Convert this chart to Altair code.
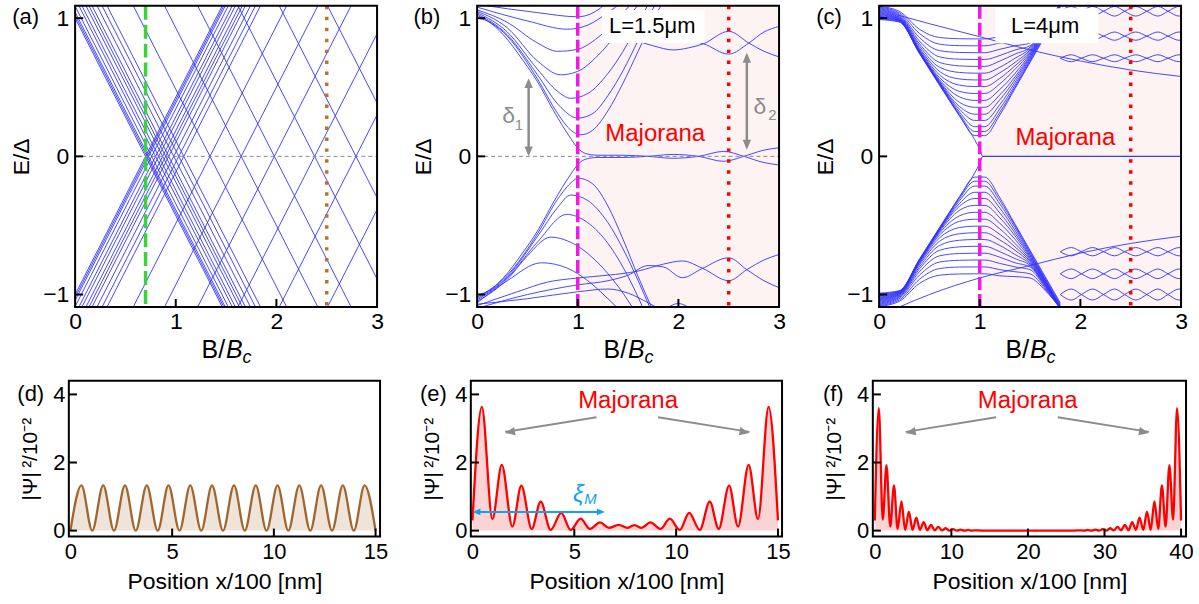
import altair as alt
import pandas as pd

FONT = "Liberation Sans"
BLUE = "#3434FF"
GRAY = "#8C8C8C"
RED = "#FF0000"
MAGENTA = "#EE1BE6"
GREEN = "#3CD23C"
BROWN = "#B8732E"
PINK_BG = "#FDF3F3"
ARROW = "M0,0L0.42,1L-0.42,1Z"

# ---------------- (a) straight levels: E at B=0 and at B=3 ----------------
A_B_ENDS = [0.0, 3.0]
A_DOWN_E0 = [1.001, 1.022, 1.044, 1.087, 1.144, 1.187, 1.244, 1.287, 1.330, 1.401, 1.473, 1.544, 1.916, 2.360, 2.831, 3.403, 3.990, 4.676, 5.363]
A_DOWN_E3 = [-3.289, -3.268, -3.246, -3.203, -3.146, -3.103, -3.046, -3.003, -2.960, -2.889, -2.817, -2.746, -2.374, -1.931, -1.459, -0.887, -0.300, 0.386, 1.073]
A_UP_E0 = [-1.001, -1.022, -1.044, -1.087, -1.144, -1.187, -1.244, -1.287, -1.330, -1.401, -1.473, -1.544, -1.916, -2.360, -2.831, -3.403, -3.990, -4.676, -5.363]
A_UP_E3 = [3.289, 3.268, 3.246, 3.203, 3.146, 3.103, 3.046, 3.003, 2.960, 2.889, 2.817, 2.746, 2.374, 1.931, 1.459, 0.887, 0.300, -0.386, -1.073]

# ---------------- (b) L = 1.5 um ----------------
B_U1_B = [0, 0.1, 0.26, 0.45, 0.6, 0.76, 0.93, 1.0, 1.08, 1.2, 1.45, 1.7, 1.95, 2.2, 2.45, 2.65, 2.85, 3.0]
B_U1_E = [1.0, 0.98, 0.88, 0.7, 0.54, 0.33, 0.13, 0.06, 0.02, 0.008, 0.008, 0.0, -0.014, 0.0, 0.036, 0.0, -0.045, -0.062]
B_L1_B = [0, 0.1, 0.26, 0.45, 0.6, 0.76, 0.93, 1.0, 1.08, 1.2, 1.45, 1.7, 1.95, 2.2, 2.45, 2.65, 2.85, 3.0]
B_L1_E = [-1.0, -0.98, -0.88, -0.7, -0.54, -0.33, -0.13, -0.06, -0.02, -0.008, -0.008, 0.0, 0.014, 0.0, -0.036, 0.0, 0.045, 0.062]
B_U2_B = [0, 0.3, 0.6, 0.8, 0.93, 1.03, 1.15, 1.3, 1.45, 1.6, 1.75, 1.85]
B_U2_E = [1.02, 0.87, 0.56, 0.31, 0.19, 0.156, 0.19, 0.33, 0.53, 0.76, 0.99, 1.12]
B_U3_B = [0, 0.3, 0.6, 0.8, 1.0, 1.15, 1.3, 1.45, 1.6, 1.72, 1.8]
B_U3_E = [1.03, 0.88, 0.59, 0.38, 0.277, 0.31, 0.44, 0.62, 0.84, 1.03, 1.14]
B_U4_B = [0, 0.3, 0.6, 0.8, 0.93, 1.1, 1.3, 1.45, 1.6, 1.72]
B_U4_E = [1.04, 0.9, 0.63, 0.47, 0.42, 0.455, 0.6, 0.76, 0.96, 1.13]
B_U5_B = [0, 0.3, 0.6, 0.83, 1.0, 1.2, 1.4, 1.55, 1.65]
B_U5_E = [1.05, 0.93, 0.69, 0.59, 0.615, 0.73, 0.9, 1.05, 1.14]
B_U6_B = [0, 0.3, 0.6, 0.8, 1.0, 1.2, 1.4, 1.55]
B_U6_E = [1.06, 0.97, 0.82, 0.76, 0.775, 0.86, 1.0, 1.12]
B_U7_B = [0, 0.5, 0.9, 1.1, 1.3, 1.45]
B_U7_E = [1.08, 0.98, 0.92, 0.95, 1.04, 1.12]
B_U8_B = [0, 0.6, 1.0, 1.2, 1.3]
B_U8_E = [1.1, 1.04, 1.01, 1.06, 1.12]
B_UR1_B = [1.5, 1.75, 1.95, 2.1, 2.25, 2.5, 2.7, 2.85, 3.0]
B_UR1_E = [0.86, 0.8, 0.77, 0.785, 0.815, 0.905, 0.82, 0.76, 0.72]
B_UR2_B = [1.9, 2.1, 2.25, 2.5, 2.7, 2.85, 3.0]
B_UR2_E = [0.9, 0.845, 0.815, 0.74, 0.82, 0.9, 0.94]
B_L2_B = [0, 0.3, 0.6, 0.8, 0.95, 1.0, 1.15, 1.3, 1.45, 1.6, 1.75]
B_L2_E = [-1.02, -0.86, -0.56, -0.31, -0.18, -0.157, -0.2, -0.36, -0.6, -0.87, -1.12]
B_L3_B = [0, 0.3, 0.6, 0.8, 0.93, 1.1, 1.3, 1.45, 1.6, 1.72]
B_L3_E = [-1.03, -0.87, -0.58, -0.37, -0.28, -0.32, -0.48, -0.67, -0.9, -1.1]
B_L4_B = [0, 0.3, 0.6, 0.89, 1.1, 1.3, 1.5, 1.65]
B_L4_E = [-1.04, -0.88, -0.62, -0.42, -0.48, -0.63, -0.87, -1.1]
B_L5_B = [0, 0.3, 0.5, 0.73, 1.0, 1.2, 1.4, 1.55]
B_L5_E = [-1.05, -0.89, -0.72, -0.585, -0.65, -0.77, -0.94, -1.1]
B_L6_B = [0, 0.3, 0.64, 0.9, 1.1, 1.3, 1.4]
B_L6_E = [-1.06, -0.9, -0.77, -0.81, -0.9, -1.03, -1.1]
B_LR1_B = [0, 0.4, 0.7, 1.0, 1.3, 1.6, 1.85, 2.04, 2.24, 2.5, 2.68, 2.85, 3.0]
B_LR1_E = [-1.08, -0.98, -0.91, -0.88, -0.86, -0.83, -0.78, -0.757, -0.81, -0.9, -0.82, -0.75, -0.71]
B_LR2_B = [0, 0.5, 1.0, 1.3, 1.5, 1.7, 1.85, 2.04, 2.24, 2.5, 2.68, 2.85, 3.0]
B_LR2_E = [-1.1, -1.0, -0.93, -0.9, -0.86, -0.79, -0.8, -0.878, -0.81, -0.734, -0.82, -0.9, -0.95]
B_LB1_B = [0, 0.5, 1.0, 1.3, 1.5, 1.7, 1.8]
B_LB1_E = [-1.07, -1.03, -0.98, -0.96, -0.99, -1.06, -1.1]
B_LB2_B = [1.85, 2.0, 2.15]
B_LB2_E = [-1.12, -1.065, -1.12]

# ---------------- (c) L = 4 um ----------------
C_GRID = [0, 0.2, 0.4, 0.6, 0.8, 0.95, 1.05, 1.2, 1.35, 1.5, 1.65, 1.8]
C_UP_10 = [0.996, 0.975, 0.75, 0.52, 0.295, 0.15, 0.15, 0.30, 0.49, 0.68, 0.87, 1.06]
C_UP_15 = [1.002, 0.978, 0.75, 0.525, 0.305, 0.18, 0.18, 0.32, 0.50, 0.69, 0.88, 1.07]
C_UP_20 = [1.008, 0.981, 0.752, 0.528, 0.32, 0.215, 0.215, 0.345, 0.515, 0.70, 0.89, 1.08]
C_UP_25 = [1.014, 0.984, 0.754, 0.532, 0.34, 0.26, 0.26, 0.375, 0.535, 0.71, 0.895, 1.085]
C_UP_30 = [1.02, 0.987, 0.756, 0.538, 0.36, 0.305, 0.305, 0.41, 0.555, 0.72, 0.90, 1.09]
C_UP_35 = [1.026, 0.99, 0.758, 0.545, 0.39, 0.355, 0.355, 0.445, 0.575, 0.73, 0.905, 1.095]
C_UP_40 = [1.032, 0.993, 0.762, 0.555, 0.43, 0.405, 0.405, 0.485, 0.60, 0.74, 0.91, 1.1]
C_UP_45 = [1.038, 0.996, 0.768, 0.57, 0.47, 0.455, 0.455, 0.525, 0.63, 0.75, 0.915, 1.1]
C_UP_50 = [1.044, 1.0, 0.775, 0.59, 0.515, 0.505, 0.505, 0.565, 0.655, 0.76, 0.92, 1.1]
C_UP_55 = [1.05, 1.005, 0.785, 0.615, 0.56, 0.553, 0.553, 0.605, 0.68, 0.77, 0.925, 1.1]
C_UP_60 = [1.056, 1.01, 0.80, 0.645, 0.607, 0.602, 0.602, 0.645, 0.71, 0.78, 0.93, 1.1]
C_UP_65 = [1.062, 1.016, 0.815, 0.68, 0.655, 0.651, 0.651, 0.69, 0.74, 0.79, 0.935, 1.1]
C_UP_70 = [1.068, 1.022, 0.835, 0.72, 0.703, 0.701, 0.701, 0.73, 0.77, 0.80, 0.94, 1.1]
C_UP_75 = [1.074, 1.03, 0.86, 0.765, 0.752, 0.75, 0.75, 0.775, 0.80, 0.82, 0.95, 1.1]
C_UP_80 = [1.08, 1.04, 0.89, 0.812, 0.801, 0.80, 0.80, 0.82, 0.835, 0.85, 0.96, 1.1]
C_UP_85 = [1.086, 1.05, 0.92, 0.86, 0.851, 0.85, 0.85, 0.865, 0.87, 0.88, 0.97, 1.1]
C_DN_10 = [-0.996, -0.975, -0.75, -0.52, -0.295, -0.15, -0.15, -0.30, -0.49, -0.68, -0.87, -1.06]
C_DN_15 = [-1.002, -0.978, -0.75, -0.525, -0.305, -0.18, -0.18, -0.32, -0.50, -0.69, -0.88, -1.07]
C_DN_20 = [-1.008, -0.981, -0.752, -0.528, -0.32, -0.215, -0.215, -0.345, -0.515, -0.70, -0.89, -1.08]
C_DN_25 = [-1.014, -0.984, -0.754, -0.532, -0.34, -0.26, -0.26, -0.375, -0.535, -0.71, -0.895, -1.085]
C_DN_30 = [-1.02, -0.987, -0.756, -0.538, -0.36, -0.305, -0.305, -0.41, -0.555, -0.72, -0.90, -1.09]
C_DN_35 = [-1.026, -0.99, -0.758, -0.545, -0.39, -0.355, -0.355, -0.445, -0.575, -0.73, -0.905, -1.095]
C_DN_40 = [-1.032, -0.993, -0.762, -0.555, -0.43, -0.405, -0.405, -0.485, -0.60, -0.74, -0.91, -1.1]
C_DN_45 = [-1.038, -0.996, -0.768, -0.57, -0.47, -0.455, -0.455, -0.525, -0.63, -0.75, -0.915, -1.1]
C_DN_50 = [-1.044, -1.0, -0.775, -0.59, -0.515, -0.505, -0.505, -0.565, -0.655, -0.76, -0.92, -1.1]
C_DN_55 = [-1.05, -1.005, -0.785, -0.615, -0.56, -0.553, -0.553, -0.605, -0.68, -0.77, -0.925, -1.1]
C_DN_60 = [-1.056, -1.01, -0.80, -0.645, -0.607, -0.602, -0.602, -0.645, -0.71, -0.78, -0.93, -1.1]
C_DN_65 = [-1.062, -1.016, -0.815, -0.68, -0.655, -0.651, -0.651, -0.69, -0.74, -0.79, -0.935, -1.1]
C_DN_70 = [-1.068, -1.022, -0.835, -0.72, -0.703, -0.701, -0.701, -0.73, -0.77, -0.80, -0.94, -1.1]
C_DN_75 = [-1.074, -1.03, -0.86, -0.765, -0.752, -0.75, -0.75, -0.775, -0.80, -0.82, -0.95, -1.1]
C_DN_80 = [-1.08, -1.04, -0.89, -0.812, -0.801, -0.80, -0.80, -0.82, -0.835, -0.85, -0.96, -1.1]
C_DN_85 = [-1.086, -1.05, -0.92, -0.86, -0.851, -0.85, -0.85, -0.865, -0.87, -0.88, -0.97, -1.1]
C_MAJ_B = [0, 0.2, 0.4, 0.6, 0.8, 0.95, 1.0, 1.03, 3.0]
C_MAJ_UP = [0.99, 0.972, 0.745, 0.515, 0.29, 0.12, 0.05, 0.0, 0.0]
C_MAJ_DN = [-0.99, -0.972, -0.745, -0.515, -0.29, -0.12, -0.05, 0.0, 0.0]
C_LONG_B = [0.2, 0.5, 1.0, 1.5, 2.0, 2.5, 3.0]
C_LONG_UP = [1.02, 0.96, 0.866, 0.77, 0.69, 0.625, 0.578]
C_LONG_DN = [-1.09, -1.0, -0.88, -0.79, -0.7, -0.63, -0.578]
C_LENS_B = [1.80, 1.91, 2.01, 2.12, 2.23, 2.34, 2.44, 2.55, 2.66, 2.77, 2.87, 2.98, 3.09]
C_LENS_U1A = [0.71, 0.735, 0.71, 0.685, 0.71, 0.735, 0.71, 0.685, 0.71, 0.735, 0.71, 0.685, 0.71]
C_LENS_U1B = [0.71, 0.685, 0.71, 0.735, 0.71, 0.685, 0.71, 0.735, 0.71, 0.685, 0.71, 0.735, 0.71]
C_LENS_U2A = [0.87, 0.9, 0.87, 0.84, 0.87, 0.9, 0.87, 0.84, 0.87, 0.9, 0.87, 0.84, 0.87]
C_LENS_U2B = [0.87, 0.84, 0.87, 0.9, 0.87, 0.84, 0.87, 0.9, 0.87, 0.84, 0.87, 0.9, 0.87]
C_LENS_U3A = [1.05, 1.085, 1.05, 1.015, 1.05, 1.085, 1.05, 1.015, 1.05, 1.085, 1.05, 1.015, 1.05]
C_LENS_U3B = [1.05, 1.015, 1.05, 1.085, 1.05, 1.015, 1.05, 1.085, 1.05, 1.015, 1.05, 1.085, 1.05]
C_LENS_L1A = [-0.69, -0.66, -0.69, -0.72, -0.69, -0.66, -0.69, -0.72, -0.69, -0.66, -0.69, -0.72, -0.69]
C_LENS_L1B = [-0.69, -0.72, -0.69, -0.66, -0.69, -0.72, -0.69, -0.66, -0.69, -0.72, -0.69, -0.66, -0.69]
C_LENS_L2A = [-0.85, -0.815, -0.85, -0.885, -0.85, -0.815, -0.85, -0.885, -0.85, -0.815, -0.85, -0.885, -0.85]
C_LENS_L2B = [-0.85, -0.885, -0.85, -0.815, -0.85, -0.885, -0.85, -0.815, -0.85, -0.885, -0.85, -0.815, -0.85]
C_LENS_L3A = [-1.0, -0.96, -1.0, -1.04, -1.0, -0.96, -1.0, -1.04, -1.0, -0.96, -1.0, -1.04, -1.0]
C_LENS_L3B = [-1.0, -1.04, -1.0, -0.96, -1.0, -1.04, -1.0, -0.96, -1.0, -1.04, -1.0, -0.96, -1.0]

# ---------------- (d) (e) (f) wavefunctions: extrema ----------------
D_X = [0, 0.54, 1.07, 1.61, 2.14, 2.68, 3.21, 3.75, 4.29, 4.82, 5.36, 5.89, 6.43, 6.96, 7.5, 8.04, 8.57, 9.11, 9.64, 10.18, 10.71, 11.25, 11.79, 12.32, 12.86, 13.39, 13.93, 14.46, 15.0]
D_Y = [0, 1.33, 0, 1.33, 0, 1.33, 0, 1.33, 0, 1.33, 0, 1.33, 0, 1.33, 0, 1.33, 0, 1.33, 0, 1.33, 0, 1.33, 0, 1.33, 0, 1.33, 0, 1.33, 0]
E_X = [0.0, 0.46, 0.98, 1.44, 1.96, 2.40, 2.91, 3.35, 3.84, 4.36, 4.82, 5.31, 5.77, 6.26, 6.7, 7.19, 7.6, 7.95, 8.3, 8.74, 9.23, 9.69, 10.18, 10.64, 11.16, 11.65, 12.09, 12.6, 13.04, 13.56, 14.02, 14.54, 15.0]
E_Y = [0.3, 3.63, 0.34, 1.93, 0.12, 1.32, 0.05, 0.85, 0.02, 0.52, 0.02, 0.35, 0.05, 0.24, 0.08, 0.17, 0.08, 0.16, 0.08, 0.24, 0.05, 0.35, 0.02, 0.52, 0.02, 0.85, 0.05, 1.32, 0.12, 1.93, 0.34, 3.63, 0.3]
F_X = [0, 0.52, 1.04, 1.52, 2.02, 2.5, 2.98, 3.48, 3.96, 4.45, 4.93, 5.42, 5.9, 6.38, 6.86, 7.34, 7.82, 8.3, 8.78, 9.26, 9.74, 10.22, 10.7, 11.2, 11.7, 12.2, 12.7, 13.2, 14.0, 20.0, 26.0, 26.8, 27.3, 27.8, 28.3, 28.8, 29.3, 29.78, 30.26, 30.74, 31.22, 31.7, 32.18, 32.66, 33.14, 33.62, 34.1, 34.58, 35.07, 35.55, 36.04, 36.52, 37.02, 37.5, 37.98, 38.48, 38.96, 39.48, 40.0]
F_Y = [0.3, 3.6, 0.32, 1.92, 0.12, 1.33, 0.05, 0.86, 0.02, 0.56, 0.02, 0.38, 0.02, 0.25, 0.01, 0.17, 0.01, 0.11, 0.01, 0.07, 0.0, 0.045, 0.0, 0.03, 0.0, 0.02, 0.0, 0.01, 0.0, 0.0, 0.0, 0.01, 0.0, 0.02, 0.0, 0.03, 0.0, 0.045, 0.0, 0.07, 0.01, 0.11, 0.01, 0.17, 0.01, 0.25, 0.02, 0.38, 0.02, 0.56, 0.02, 0.86, 0.05, 1.33, 0.12, 1.92, 0.32, 3.6, 0.3]

TOP_YTICKS = [-1, 0, 1]
TOP_XTICKS = [1, 2]
BOT_YTICKS = [0, 2, 4]

TOP_XDOM = [-0.0624, 3.0]
TOP_YDOM = [-1.09, 1.09]
BOT_YDOM = [-0.17, 4.4]


# ---------------- helpers ----------------
def dfc(curves):
    rows = []
    for i, (bs, es) in enumerate(curves):
        for j, (b, e) in enumerate(zip(bs, es)):
            rows.append({"x": b, "y": e, "id": i, "o": j})
    return pd.DataFrame(rows)


def make_enc(xdom, ydom, xvals, yvals, ytitle, fs, lpad_x, lpad_y, tpad_y, xtitle=None, tpad_x=0,
             tfs_x=None, tfs_y=None):
    xs = alt.Scale(domain=xdom, nice=False, zero=False)
    ys = alt.Scale(domain=ydom, nice=False, zero=False)
    common = dict(domain=False, ticks=False, grid=False, labelColor="black", titleColor="black",
                  labelFontSize=fs, titleFontWeight="normal", format="d",
                  labelFlush=False, labelOverlap=False, labelFont=FONT, titleFont=FONT)
    ax = alt.Axis(values=xvals, title=xtitle, labelPadding=lpad_x, titlePadding=tpad_x,
                  titleFontSize=tfs_x or fs, **common)
    ay = alt.Axis(values=yvals, title=ytitle, labelPadding=lpad_y, titlePadding=tpad_y,
                  titleFontSize=tfs_y or fs, **common)

    def X(f="x"):
        return alt.X(f + ":Q", scale=xs, axis=ax)

    def Y(f="y"):
        return alt.Y(f + ":Q", scale=ys, axis=ay)
    return X, Y


def lines(X, Y, curves, color=BLUE, width=0.9, interp="monotone"):
    return alt.Chart(dfc(curves)).mark_line(color=color, strokeWidth=width, interpolate=interp, clip=True).encode(
        x=X(), y=Y(), detail="id:N", order="o:Q")


def rules(X, Y, data, **kw):
    df = pd.DataFrame(data)
    enc = {}
    if "x" in df:
        enc["x"] = X()
    if "x2" in df:
        enc["x2"] = alt.X2("x2:Q")
    if "y" in df:
        enc["y"] = Y()
    if "y2" in df:
        enc["y2"] = alt.Y2("y2:Q")
    return alt.Chart(df).mark_rule(**kw).encode(**enc)


def texts(X, Y, xs, ys, ts, **kw):
    df = pd.DataFrame({"x": xs, "y": ys, "t": ts})
    return alt.Chart(df).mark_text(**kw).encode(x=X(), y=Y(), text="t:N")


def heads(X, Y, xs, ys, angles, color, size):
    df = pd.DataFrame({"x": xs, "y": ys, "a": angles})
    return alt.Chart(df).mark_point(shape=ARROW, filled=True, size=size, color=color, opacity=1,
                                    strokeWidth=0).encode(x=X(), y=Y(), angle=alt.Angle("a:Q", scale=None))


def rect(X, Y, x1, x2, y1, y2, color):
    df = pd.DataFrame({"x": [x1], "x2": [x2], "y": [y1], "y2": [y2]})
    return alt.Chart(df).mark_rect(color=color).encode(x=X(), x2=alt.X2("x2:Q"), y=Y(), y2=alt.Y2("y2:Q"))


def frame(X, Y, x1, x2, y1, y2):
    df = pd.DataFrame({"x": [x1], "x2": [x2], "y": [y1], "y2": [y2]})
    return alt.Chart(df).mark_rect(fillOpacity=0, stroke="black", strokeWidth=2).encode(
        x=X(), x2=alt.X2("x2:Q"), y=Y(), y2=alt.Y2("y2:Q"))


def top_common(X, Y, label, lab_x):
    ticks_y = rules(X, Y, {"x": [0.0] * 3, "x2": [0.08] * 3, "y": TOP_YTICKS}, color="black", strokeWidth=2)
    ticks_x = rules(X, Y, {"x": TOP_XTICKS, "y": [-1.09] * 2, "y2": [-1.032] * 2}, color="black", strokeWidth=2)
    lab = texts(X, Y, [lab_x], [1.01], [label], align="left", baseline="middle", fontSize=22, color="black")
    yb = -1.46
    t1 = texts(X, Y, [1.5], [yb], ["B/"], align="right", baseline="alphabetic", fontSize=25, color="black", dx=-1)
    t2 = texts(X, Y, [1.5], [yb], ["B"], align="left", baseline="alphabetic", fontSize=25, color="black",
               fontStyle="italic")
    t3 = texts(X, Y, [1.5], [yb], ["c"], align="left", baseline="alphabetic", fontSize=18, color="black",
               fontStyle="italic", dx=16.5, dy=5)
    fr = frame(X, Y, 0.0, 3.0, TOP_YDOM[0], TOP_YDOM[1])
    return [ticks_y, ticks_x, lab, t1, t2, t3, fr]


def top_enc():
    return make_enc(TOP_XDOM, TOP_YDOM, [0, 1, 2, 3], [-1, 0, 1], "E/Δ", 23, 4, 0, 9)


def zero_line(X, Y):
    return rules(X, Y, {"x": [0.0], "x2": [3.0], "y": [0.0]}, color="#8a8a8a", strokeWidth=1, strokeDash=[4, 3])


# ---------------- panel (a) ----------------
Xa, Ya = top_enc()
a_curves = [(A_B_ENDS, [e0, e3]) for e0, e3 in zip(A_DOWN_E0, A_DOWN_E3)] + \
           [(A_B_ENDS, [e0, e3]) for e0, e3 in zip(A_UP_E0, A_UP_E3)]
pa = alt.layer(
    lines(Xa, Ya, a_curves, interp="linear"),
    zero_line(Xa, Ya),
    rules(Xa, Ya, {"x": [0.7]}, color=GREEN, strokeWidth=3.5, strokeDash=[14, 5]),
    rules(Xa, Ya, {"x": [2.5]}, color=BROWN, strokeWidth=3.5, strokeDash=[3.5, 7.5]),
    *top_common(Xa, Ya, "(a)", -0.624),
).properties(width=309, height=302)

# ---------------- panel (b) ----------------
Xb, Yb = top_enc()
b_curves = [(B_U1_B, B_U1_E), (B_L1_B, B_L1_E), (B_U2_B, B_U2_E), (B_U3_B, B_U3_E), (B_U4_B, B_U4_E),
            (B_U5_B, B_U5_E), (B_U6_B, B_U6_E), (B_U7_B, B_U7_E), (B_U8_B, B_U8_E), (B_UR1_B, B_UR1_E),
            (B_UR2_B, B_UR2_E), (B_L2_B, B_L2_E), (B_L3_B, B_L3_E), (B_L4_B, B_L4_E), (B_L5_B, B_L5_E),
            (B_L6_B, B_L6_E), (B_LR1_B, B_LR1_E), (B_LR2_B, B_LR2_E), (B_LB1_B, B_LB1_E), (B_LB2_B, B_LB2_E)]
pb = alt.layer(
    rect(Xb, Yb, 1.0, 3.0, -1.09, 1.09, PINK_BG),
    lines(Xb, Yb, b_curves),
    zero_line(Xb, Yb),
    rules(Xb, Yb, {"x": [1.0]}, color=MAGENTA, strokeWidth=3.5, strokeDash=[13, 4]),
    rules(Xb, Yb, {"x": [2.5]}, color=RED, strokeWidth=3.5, strokeDash=[3.5, 7.5]),
    rect(Xb, Yb, 1.24, 2.26, 0.82, 1.06, "white"),
    texts(Xb, Yb, [1.74], [0.946], ["L=1.5μm"], fontSize=22, color="black", baseline="middle"),
    texts(Xb, Yb, [1.77], [0.16], ["Majorana"], fontSize=24, color=RED, baseline="middle"),
    rules(Xb, Yb, {"x": [0.512, 2.68], "y": [0.02, 0.07], "y2": [0.545, 0.73]}, color=GRAY, strokeWidth=2.5),
    heads(Xb, Yb, [0.512, 0.512, 2.68, 2.68], [0.566, 0.0, 0.75, 0.048], [0, 180, 0, 180], GRAY, 400),
    texts(Xb, Yb, [0.314], [0.289], ["δ"], fontSize=23, color=GRAY, baseline="middle"),
    texts(Xb, Yb, [0.415], [0.229], ["1"], fontSize=15, color=GRAY, baseline="middle"),
    texts(Xb, Yb, [2.81], [0.36], ["δ"], fontSize=23, color=GRAY, baseline="middle"),
    texts(Xb, Yb, [2.935], [0.30], ["2"], fontSize=15, color=GRAY, baseline="middle"),
    *top_common(Xb, Yb, "(b)", -0.632),
).properties(width=309, height=302)

# ---------------- panel (c) ----------------
Xc, Yc = top_enc()
c_ups = [C_UP_10, C_UP_15, C_UP_20, C_UP_25, C_UP_30, C_UP_35, C_UP_40, C_UP_45, C_UP_50, C_UP_55,
         C_UP_60, C_UP_65, C_UP_70, C_UP_75, C_UP_80, C_UP_85]
c_dns = [C_DN_10, C_DN_15, C_DN_20, C_DN_25, C_DN_30, C_DN_35, C_DN_40, C_DN_45, C_DN_50, C_DN_55,
         C_DN_60, C_DN_65, C_DN_70, C_DN_75, C_DN_80, C_DN_85]
c_lens = [C_LENS_U1A, C_LENS_U1B, C_LENS_U2A, C_LENS_U2B, C_LENS_U3A, C_LENS_U3B,
          C_LENS_L1A, C_LENS_L1B, C_LENS_L2A, C_LENS_L2B, C_LENS_L3A, C_LENS_L3B]
c_curves = [(C_GRID, v) for v in c_ups] + [(C_GRID, v) for v in c_dns] + \
           [(C_MAJ_B, C_MAJ_UP), (C_MAJ_B, C_MAJ_DN), (C_LONG_B, C_LONG_UP), (C_LONG_B, C_LONG_DN)] + \
           [(C_LENS_B, v) for v in c_lens]
pc = alt.layer(
    rect(Xc, Yc, 1.0, 3.0, -1.09, 1.09, PINK_BG),
    lines(Xc, Yc, c_curves),
    rules(Xc, Yc, {"x": [1.0]}, color=MAGENTA, strokeWidth=3.5, strokeDash=[13, 4]),
    rules(Xc, Yc, {"x": [2.5]}, color=RED, strokeWidth=3.5, strokeDash=[3.5, 7.5]),
    rect(Xc, Yc, 1.155, 2.18, 0.818, 1.071, "white"),
    texts(Xc, Yc, [1.65], [0.94], ["L=4μm"], fontSize=22, color="black", baseline="middle"),
    texts(Xc, Yc, [1.85], [0.13], ["Majorana"], fontSize=24, color=RED, baseline="middle"),
    *top_common(Xc, Yc, "(c)", -0.624),
).properties(width=309, height=302)

# ---------------- bottom panels ----------------
YTITLE_B = "|Ψ|\u2009²/10⁻²"
XTITLE_B = "Position x/100 [nm]"


def bottom_panel(xdom, xvals, xs_, ys_, line_color, fill_color, label, lab_x, tick_len, extra, width):
    X, Y = make_enc(xdom, BOT_YDOM, xvals, BOT_YTICKS, YTITLE_B, 22, 5, 4, 12, XTITLE_B, 8,
                    tfs_x=23, tfs_y=21)
    df = pd.DataFrame({"x": xs_, "y": ys_, "z": [0.0] * len(xs_), "o": list(range(len(xs_)))})
    area = alt.Chart(df).mark_area(color=fill_color, interpolate="monotone", opacity=1).encode(
        x=X(), y=Y(), y2=alt.Y2("z:Q"))
    line = alt.Chart(df).mark_line(color=line_color, strokeWidth=2.3, interpolate="monotone").encode(
        x=X(), y=Y(), order="o:Q")
    xt = [v for v in xvals if v > xdom[0] + 0.01 * (xdom[1] - xdom[0])]
    ticks_y = rules(X, Y, {"x": [xdom[0]] * 3, "x2": [xdom[0] + tick_len] * 3, "y": BOT_YTICKS},
                    color="black", strokeWidth=2)
    ticks_x = rules(X, Y, {"x": xt, "y": [BOT_YDOM[0]] * len(xt), "y2": [BOT_YDOM[0] + 0.23] * len(xt)},
                    color="black", strokeWidth=2)
    lab = texts(X, Y, [lab_x], [4.0], [label], align="left", baseline="middle", fontSize=22, color="black")
    fr = frame(X, Y, xdom[0], xdom[1], BOT_YDOM[0], BOT_YDOM[1])
    layers = [area, line, ticks_y, ticks_x, lab] + [f(X, Y) for f in extra] + [fr]
    return alt.layer(*layers).properties(width=width, height=156)


def maj_extra(tx, ax1, ax2, bx1, bx2):
    def f(X, Y):
        return alt.layer(
            texts(X, Y, [tx], [3.8], ["Majorana"], fontSize=24, color=RED, baseline="middle"),
            rules(X, Y, {"x": [ax1, bx1], "y": [3.33, 3.33], "x2": [ax2, bx2], "y2": [2.9, 2.9]},
                  color=GRAY, strokeWidth=2),
            heads(X, Y, [ax2, bx2], [2.87, 2.87], [260, 100], GRAY, 400),
        )
    return f


def xi_extra(X, Y):
    return alt.layer(
        rules(X, Y, {"x": [0.15], "x2": [6.35], "y": [0.55]}, color="#14A0EE", strokeWidth=2),
        heads(X, Y, [0.0, 6.5], [0.55, 0.55], [270, 90], "#14A0EE", 256),
        texts(X, Y, [5.2], [1.06], ["ξ"], fontSize=24, fontStyle="italic", color="#14A0EE", baseline="middle"),
        texts(X, Y, [5.8], [0.93], ["M"], fontSize=15, fontStyle="italic", color="#14A0EE", baseline="middle"),
    )


pd_ = bottom_panel([-0.08, 15.22], [0, 5, 10, 15], D_X, D_Y, "#A2662C", "#EFE4DA", "(d)", -2.61, 0.4, [], 312)
pe = bottom_panel([-0.08, 15.2], [0, 5, 10, 15], E_X, E_Y, RED, "#FAD4D4", "(e)", -2.58, 0.4,
                  [maj_extra(7.64, 6.09, 1.6, 9.11, 13.6), xi_extra], 312)
pf = bottom_panel([-0.26, 40.65], [0, 10, 20, 30, 40], F_X, F_Y, RED, "#FAD4D4", "(f)", -6.78, 1.05,
                  [maj_extra(19.97, 15.85, 4.04, 23.9, 35.8)], 314)

top = alt.hconcat(pa, pb, pc, spacing=94, bounds="flush")
bot = alt.hconcat(pd_, pe, pf, spacing=91, bounds="flush")
chart = alt.vconcat(top, bot, spacing=12).properties(
    padding={"left": 10, "top": 3, "right": 5, "bottom": 5}
).configure(font=FONT).configure_view(strokeWidth=0)

chart.save("out.html", embed_options={"renderer": "svg", "actions": False})
